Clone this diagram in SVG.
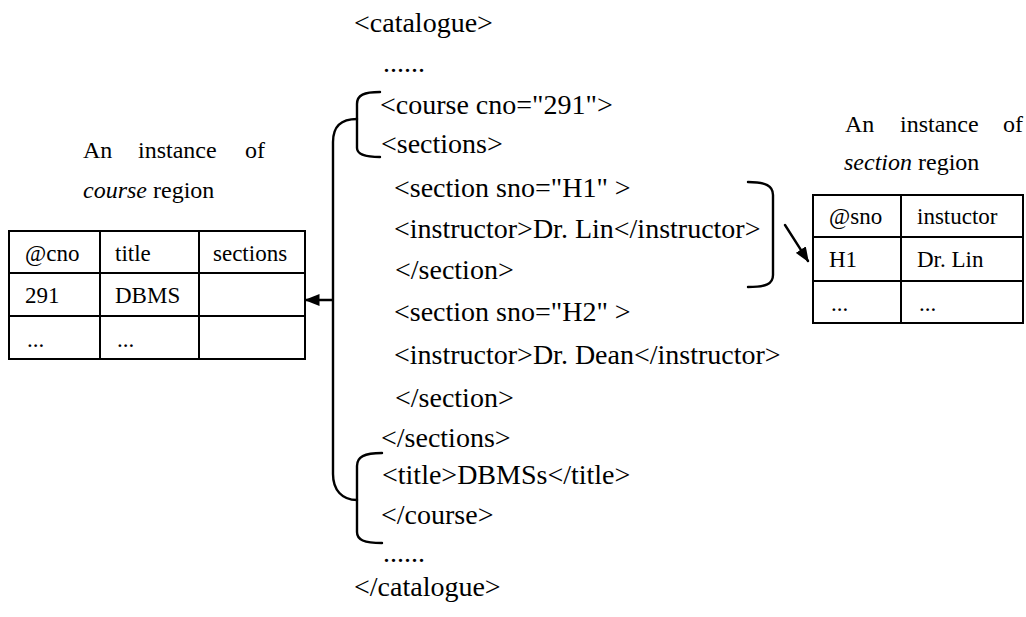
<svg xmlns="http://www.w3.org/2000/svg" width="1026" height="617" viewBox="0 0 1026 617">
  <defs>
    <style>
      .code { font-family: "Liberation Serif", "Times New Roman", serif; font-size: 28px; fill: #000; }
      .cell { font-family: "Liberation Serif", "Times New Roman", serif; font-size: 23px; fill: #000; }
      .lbl { font-family: "Liberation Serif", "Times New Roman", serif; font-size: 24px; fill: #000; }
      .it { font-style: italic; }
      .grid { fill: none; stroke: #000; stroke-width: 2; }
      .wire { fill: none; stroke: #000; stroke-width: 2.4; stroke-linecap: round; }
    </style>
    <marker id="head" viewBox="0 0 10 10" refX="9" refY="5" markerWidth="15" markerHeight="12" markerUnits="userSpaceOnUse" orient="auto" preserveAspectRatio="none">
      <path d="M0,0 L10,5 L0,10 z" fill="#000"/>
    </marker>
  </defs>
  <rect width="1026" height="617" fill="#fff"/>

  <!-- XML listing -->
  <g id="xml-listing">
    <text class="code" x="354" y="32">&lt;catalogue&gt;</text>
    <text class="code" x="383" y="72">......</text>
    <text class="code" x="380" y="114">&lt;course cno="291"&gt;</text>
    <text class="code" x="381" y="153">&lt;sections&gt;</text>
    <text class="code" x="394" y="197">&lt;section sno="H1" &gt;</text>
    <text class="code" x="394" y="238">&lt;instructor&gt;Dr. Lin&lt;/instructor&gt;</text>
    <text class="code" x="395" y="279">&lt;/section&gt;</text>
    <text class="code" x="394" y="321">&lt;section sno="H2" &gt;</text>
    <text class="code" x="394" y="364">&lt;instructor&gt;Dr. Dean&lt;/instructor&gt;</text>
    <text class="code" x="395" y="407">&lt;/section&gt;</text>
    <text class="code" x="381" y="447">&lt;/sections&gt;</text>
    <text class="code" x="382" y="484">&lt;title&gt;DBMSs&lt;/title&gt;</text>
    <text class="code" x="381" y="524">&lt;/course&gt;</text>
    <text class="code" x="383" y="562">......</text>
    <text class="code" x="354" y="596">&lt;/catalogue&gt;</text>
  </g>

  <!-- course region table -->
  <g id="course-table">
    <text class="lbl" x="83" y="158">An</text>
    <text class="lbl" x="138" y="158">instance</text>
    <text class="lbl" x="245" y="158">of</text>
    <text class="lbl" x="83" y="198"><tspan class="it">course</tspan> region</text>
    <rect class="grid" x="9" y="231" width="296" height="128"/>
    <line class="grid" x1="9" y1="273" x2="305" y2="273"/>
    <line class="grid" x1="9" y1="316" x2="305" y2="316"/>
    <line class="grid" x1="100" y1="231" x2="100" y2="359"/>
    <line class="grid" x1="199" y1="231" x2="199" y2="359"/>
    <text class="cell" x="25" y="261">@cno</text>
    <text class="cell" x="115" y="261">title</text>
    <text class="cell" x="213" y="261">sections</text>
    <text class="cell" x="25" y="303">291</text>
    <text class="cell" x="115" y="303">DBMS</text>
    <text class="cell" x="27" y="347">...</text>
    <text class="cell" x="117" y="347">...</text>
  </g>

  <!-- section region table -->
  <g id="section-table">
    <text class="lbl" x="845" y="132">An</text>
    <text class="lbl" x="900" y="132">instance</text>
    <text class="lbl" x="1003" y="132">of</text>
    <text class="lbl" x="844" y="170"><tspan class="it">section</tspan> region</text>
    <rect class="grid" x="813" y="195" width="210" height="128"/>
    <line class="grid" x1="813" y1="237" x2="1023" y2="237"/>
    <line class="grid" x1="813" y1="281" x2="1023" y2="281"/>
    <line class="grid" x1="901" y1="195" x2="901" y2="323"/>
    <text class="cell" x="829" y="224">@sno</text>
    <text class="cell" x="917" y="224">instuctor</text>
    <text class="cell" x="829" y="267">H1</text>
    <text class="cell" x="917" y="267">Dr. Lin</text>
    <text class="cell" x="831" y="311">...</text>
    <text class="cell" x="919" y="311">...</text>
  </g>

  <!-- brackets and arrows -->
  <g id="connectors">
    <!-- upper bracket: course start tag and sections -->
    <path class="wire" d="M380,92 C364,92 357,95 357,104 L357,148 C357,154 364,157 380,157"/>
    <!-- lower bracket: title and course end tag -->
    <path class="wire" d="M382,453 C364,453 357,457 357,466 L357,532 C357,540 364,543 382,543"/>
    <!-- spine joining both brackets -->
    <path class="wire" d="M357,119 C341,119 333,126 333,142 L333,474 C333,490 342,500 357,500"/>
    <!-- arrow into course table -->
    <line class="wire" x1="332" y1="300" x2="306" y2="300" marker-end="url(#head)"/>
    <!-- right brace around section H1 -->
    <path class="wire" d="M748,182 C766,182 773,186 773,195 L773,275 C773,284 766,287 748,287"/>
    <!-- arrow into section table -->
    <line class="wire" x1="785" y1="225" x2="808" y2="261" marker-end="url(#head)"/>
  </g>
</svg>
